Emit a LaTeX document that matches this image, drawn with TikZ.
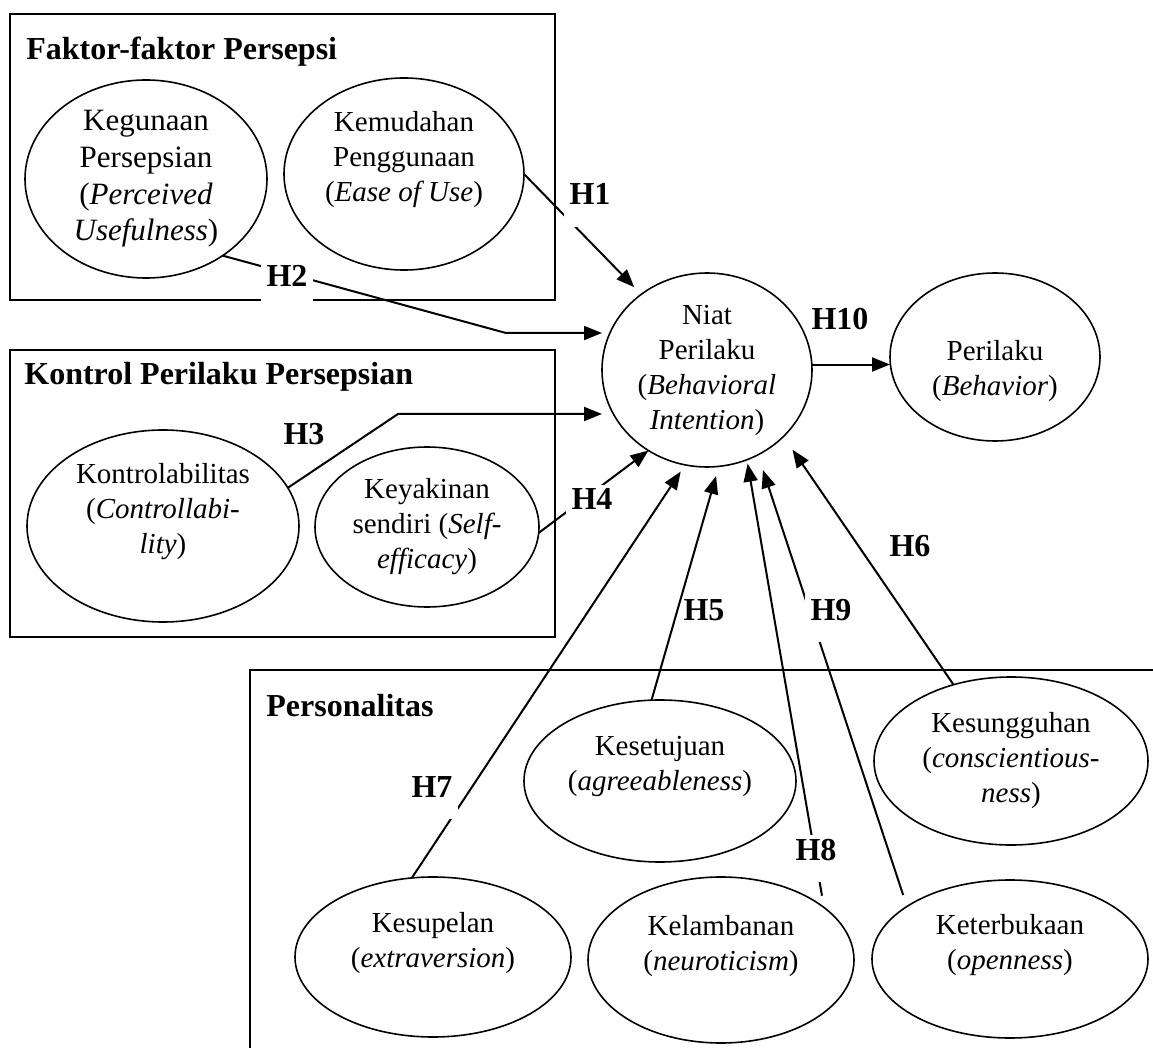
\documentclass[tikz,border=0pt]{standalone}
\usepackage{fontspec}
\setmainfont{Liberation Serif}
\usetikzlibrary{arrows.meta, shapes.geometric, calc}

\begin{document}
\begin{tikzpicture}[x=0.5pt, y=-0.5pt,
  var/.style={ellipse, draw, line width=0.8pt, inner sep=0pt, outer sep=0pt,
              align=center, font=\fontsize{14.5}{17.5}\selectfont},
  grp/.style={anchor=base west, inner sep=0pt,
              font=\fontsize{16}{19}\selectfont\bfseries},
  hyp/.style={-{Triangle[length=9pt,width=7pt]}, line width=1pt},
  hlab/.style={anchor=base, inner xsep=3pt, inner ysep=2pt, text depth=9pt,
               font=\fontsize{16}{19}\selectfont\bfseries},
  hlabw/.style={hlab, fill=white}]
  \useasboundingbox (0,0) rectangle (1153,1048);
  % perception factors
  \draw[line width=1pt] (10,14) rectangle (555,300);
  \node[grp] (T1) at (26,60) {Faktor-faktor Persepsi};
  \node[var, minimum width=121pt, minimum height=99pt,
        font=\fontsize{15.5}{18.3}\selectfont] (PU) at (146,179)
    {Kegunaan\\Persepsian\\(\textit{Perceived}\\\textit{Usefulness})};
  \node[var, minimum width=120pt, minimum height=96pt] (EU) at (404,174)
    {Kemudahan\\Penggunaan\\(\textit{Ease of Use})\\ \mbox{}};
  % perceived behavioural control
  \draw[line width=1pt] (10,350) rectangle (555,637);
  \node[grp] (T2) at (24,385) {Kontrol Perilaku Persepsian};
  \node[var, minimum width=136pt, minimum height=96pt] (CT) at (163,526)
    {Kontrolabilitas\\(\textit{Controllabi-}\\\textit{lity})\\ \mbox{}};
  \node[var, minimum width=112pt, minimum height=80pt] (SE) at (427,527)
    {Keyakinan\\sendiri (\textit{Self-}\\\textit{efficacy})};
  % intention and behaviour
  \node[var, minimum width=105pt, minimum height=97pt] (BI) at (707,370)
    {Niat\\Perilaku\\(\textit{Behavioral}\\\textit{Intention})};
  \node[var, minimum width=105pt, minimum height=84pt] (BE) at (995,357)
    {\rule{0pt}{24pt}Perilaku\\(\textit{Behavior})};
  % personality
  \draw[line width=1pt] (1153,670) -- (250,670) -- (250,1048);
  \node[grp] (T3) at (266,717) {Personalitas};
  \node[var, minimum width=136pt, minimum height=81pt] (AG) at (660,781)
    {Kesetujuan\\(\textit{agreeableness})\\ \mbox{}};
  \node[var, minimum width=137pt, minimum height=84pt] (CO) at (1011,761)
    {Kesungguhan\\(\textit{conscientious-}\\\textit{ness})};
  \node[var, minimum width=138pt, minimum height=80pt] (EX) at (433,957)
    {Kesupelan\\(\textit{extraversion})\\ \mbox{}};
  \node[var, minimum width=133pt, minimum height=83pt] (NE) at (721,960)
    {Kelambanan\\(\textit{neuroticism})\\ \mbox{}};
  \node[var, minimum width=138pt, minimum height=79pt] (OP) at (1010,959)
    {Keterbukaan\\(\textit{openness})\\ \mbox{}};
  % hypotheses
  \coordinate (H2bend) at (506,333);
  \coordinate (H3bend) at (398,414);
  \draw[hyp, shorten >=5pt] (EU.east) -- (BI.131);
  \draw[hyp] (PU.-45) -- (H2bend) -- (H2bend -| BI.west);
  \draw[hyp] (CT.17) -- (H3bend) -- (H3bend -| BI.west);
  \draw[hyp] (SE.-3) -- (BI.234);
  \draw[hyp, shorten >=5pt] (AG.96) -- (BI.277);
  \draw[hyp, shorten >=8pt] (CO.127) -- (BI.319);
  \draw[hyp, shorten >=4pt] (EX.105) -- (BI.257);
  \draw[hyp, shorten >=2pt, shorten <=6pt] (NE.27) -- (BI.294);
  \draw[hyp, shorten >=8pt, shorten <=6pt] (OP.153) -- (BI.301.5);
  \draw[hyp] (BI.3) -- (BI.3 -| BE.west);
  \node[hlabw] (L1) at (590,205) {H1};
  \node[hlabw] (L2) at (287,287) {H2};
  \node[hlab]  (L3) at (304,445) {H3};
  \node[hlabw] (L4) at (592,510) {H4};
  \node[hlab]  (L5) at (704,620) {H5};
  \node[hlab]  (L6) at (910,557) {H6};
  \node[hlabw] (L7) at (432,797) {H7};
  \node[hlabw] (L8) at (816,860) {H8};
  \node[hlabw] (L9) at (831,620) {H9};
  \node[hlab]  (L10) at (840,330) {H10};
\end{tikzpicture}
\end{document}
